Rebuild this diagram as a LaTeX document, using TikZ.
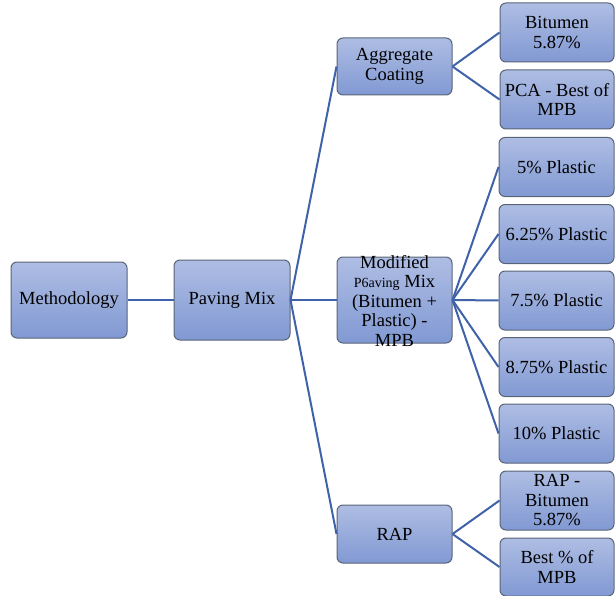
\documentclass[tikz,border=0pt]{standalone}
\usepackage{fontspec}
\setmainfont{Liberation Serif}
\begin{document}
\begin{tikzpicture}[x=1pt,y=-1pt,
  box/.style={draw=boxborder, line width=1pt, rounded corners=6pt, top color=boxtop, bottom color=boxbot, align=center, inner sep=0pt, font=\fontsize{18.5}{19.5}\selectfont, text=black},
  link/.style={draw=linkblue, line width=2pt}]
\definecolor{boxtop}{HTML}{AEBDE3}
\definecolor{boxbot}{HTML}{8199D3}
\definecolor{boxborder}{HTML}{5A6478}
\definecolor{linkblue}{HTML}{3F62A8}
\useasboundingbox (0,0) rectangle (615,596);
% level 0/1
\node[box, minimum width=116pt, minimum height=76pt] (meth) at (69,300) {Methodology};
\node[box, minimum width=116pt, minimum height=80pt] (pave) at (232,300) {Paving Mix};
% level 2
\node[box, minimum width=115pt, minimum height=57pt] (agg) at (394.5,66.5) {Aggregate\\Coating};
\node[box, minimum width=115pt, minimum height=86pt] (mod) at (394.5,300) {};
\node[align=center, inner sep=0pt, font=\fontsize{18.5}{19.5}\selectfont] (modt) at (394.5,301) {Modified\\{\fontsize{14}{19.5}\selectfont P6aving} Mix\\(Bitumen +\\Plastic) -\\MPB};
\node[box, minimum width=115pt, minimum height=58pt] (rap) at (394.5,534) {RAP};
% level 3
\node[box, minimum width=114pt, minimum height=59pt] (bit) at (557,32.5) {Bitumen\\5.87\%};
\node[box, minimum width=114pt, minimum height=59pt] (pca) at (557,99.5) {PCA - Best of\\MPB};
\node[box, minimum width=115pt, minimum height=59pt] (p5) at (556.5,167) {5\% Plastic};
\node[box, minimum width=115pt, minimum height=59pt] (p625) at (556.5,234) {6.25\% Plastic};
\node[box, minimum width=115pt, minimum height=59pt] (p75) at (556.5,300.5) {7.5\% Plastic};
\node[box, minimum width=115pt, minimum height=59pt] (p875) at (556.5,367) {8.75\% Plastic};
\node[box, minimum width=115pt, minimum height=59pt] (p10) at (556.5,433.5) {10\% Plastic};
\node[box, minimum width=114pt, minimum height=59pt] (rapb) at (557,500.5) {RAP -\\Bitumen\\5.87\%};
\node[box, minimum width=114pt, minimum height=58pt] (best) at (557,567) {Best \% of\\MPB};
% links
\draw[link] (meth.east) -- (pave.west);
\draw[link] (pave.east) -- (agg.west);
\draw[link] (pave.east) -- (mod.west);
\draw[link] (pave.east) -- (rap.west);
\draw[link] (agg.east) -- (bit.west);
\draw[link] (agg.east) -- (pca.west);
\foreach \n in {p5,p625,p75,p875,p10} \draw[link] (mod.east) -- (\n.west);
\draw[link] (rap.east) -- (rapb.west);
\draw[link] (rap.east) -- (best.west);
\end{tikzpicture}
\end{document}
